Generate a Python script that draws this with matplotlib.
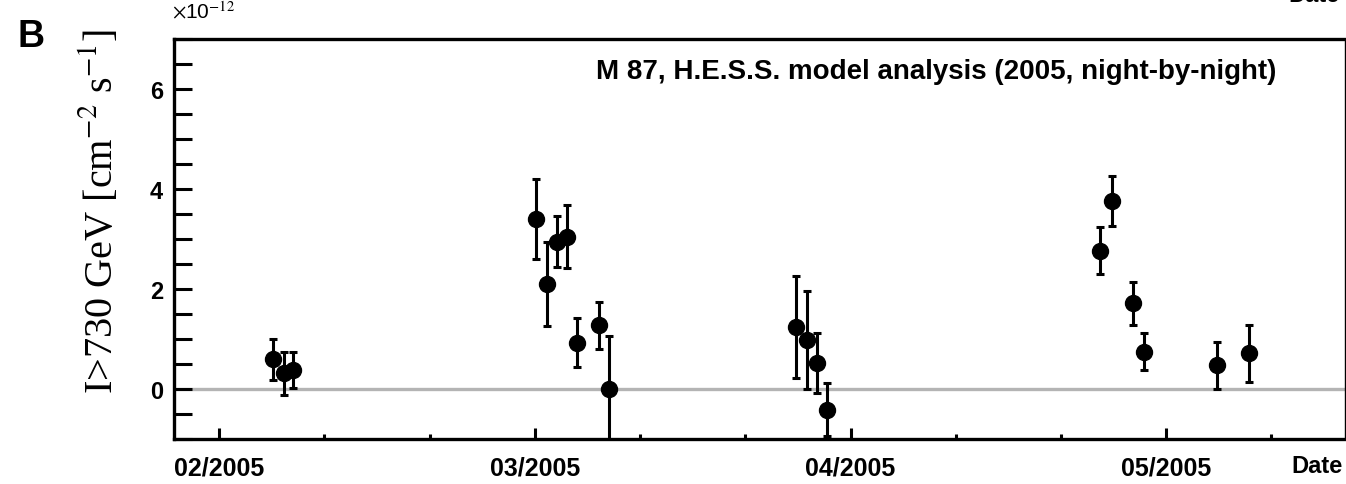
import matplotlib
matplotlib.use("Agg")
import matplotlib.pyplot as plt
from matplotlib.ticker import FixedLocator, MultipleLocator, FixedFormatter

# ---- data (flux in units of 1e-12 cm^-2 s^-1, x in days after the 02/2005 tick)
day = [5.1, 6.15, 7.0,
       30.1, 31.15, 32.1, 33.1, 34.05, 36.1, 37.05,
       54.8, 55.9, 56.85, 57.8,
       83.75, 84.85, 86.85, 87.85, 94.8, 97.9]
flux = [0.60, 0.32, 0.38,
        3.41, 2.11, 2.95, 3.05, 0.93, 1.28, 0.00,
        1.25, 0.98, 0.52, -0.41,
        2.77, 3.77, 1.72, 0.75, 0.48, 0.72]
flux_err = [0.41, 0.43, 0.36,
            0.80, 0.84, 0.51, 0.63, 0.49, 0.47, 1.07,
            1.02, 0.98, 0.60, 0.53,
            0.47, 0.50, 0.43, 0.37, 0.47, 0.57]
month_ticks = [0, 30, 60, 90]
month_labels = ["02/2005", "03/2005", "04/2005", "05/2005"]
y_ticks = [0, 2, 4, 6]

W, H = 1346, 485
fig = plt.figure(figsize=(W / 100, H / 100), dpi=100)
ax = fig.add_axes([174 / W, 1 - 440 / H, (1345 - 174) / W, 400 / H])

ax.set_xlim(-4.3, 107.0)
ax.set_ylim(-1, 7)

ax.axhline(0, color="#b4b4b4", lw=2.4, zorder=1)
ax.errorbar(day, flux, yerr=flux_err, fmt="o", color="black", ms=11.5,
            elinewidth=2.2, capsize=3.0, capthick=2.2, zorder=3)

# spines
for s in ["left", "bottom", "top"]:
    ax.spines[s].set_linewidth(2.4)
ax.spines["right"].set_linewidth(1.0)

# y ticks
ax.yaxis.set_major_locator(FixedLocator(y_ticks))
ax.yaxis.set_minor_locator(MultipleLocator(0.5))
ax.tick_params(axis="y", which="both", direction="in", length=13, width=2.2,
               pad=8, labelsize=17)
# x ticks
ax.xaxis.set_major_locator(FixedLocator(month_ticks))
ax.xaxis.set_major_formatter(FixedFormatter(month_labels))
ax.xaxis.set_minor_locator(MultipleLocator(10))
ax.tick_params(axis="x", which="major", direction="in", length=8, width=2.2,
               pad=12, labelsize=18)
ax.tick_params(axis="x", which="minor", direction="in", length=3.5, width=2.2)
for lab in ax.get_xticklabels() + ax.get_yticklabels():
    lab.set_fontweight("bold")
    lab.set_fontfamily("Liberation Sans")

# texts
ax.text((1276 - 174) / (1345 - 174), (440 - 72) / 400,
        "M 87, H.E.S.S. model analysis (2005, night-by-night)",
        transform=ax.transAxes, ha="right", va="center", fontsize=20,
        fontweight="bold", family="Liberation Sans")

plt.rcParams["mathtext.fontset"] = "stix"
fig.text(100 / W, 1 - 212 / H, r"I>730 GeV [cm$^{-2}$ s$^{-1}$]", rotation=90,
         ha="center", va="center", fontsize=29, family="Liberation Serif")
fig.text(17 / W, 1 - 37 / H, "B", ha="left", va="center", fontsize=27,
         fontweight="bold", family="Liberation Sans")
fig.text(172 / W, 1 - 1 / H, r"$\times$10$^{-12}$", ha="left", va="top",
         fontsize=15, family="Liberation Sans")
fig.text(1343 / W, 1 - 467 / H, "Date", ha="right", va="center", fontsize=17,
         fontweight="bold", family="Liberation Sans")
fig.text(1340 / W, 1 - 2 / H, "Date", ha="right", va="baseline", fontsize=17,
         fontweight="bold", family="Liberation Sans")

fig.savefig("out.png", dpi=100)
